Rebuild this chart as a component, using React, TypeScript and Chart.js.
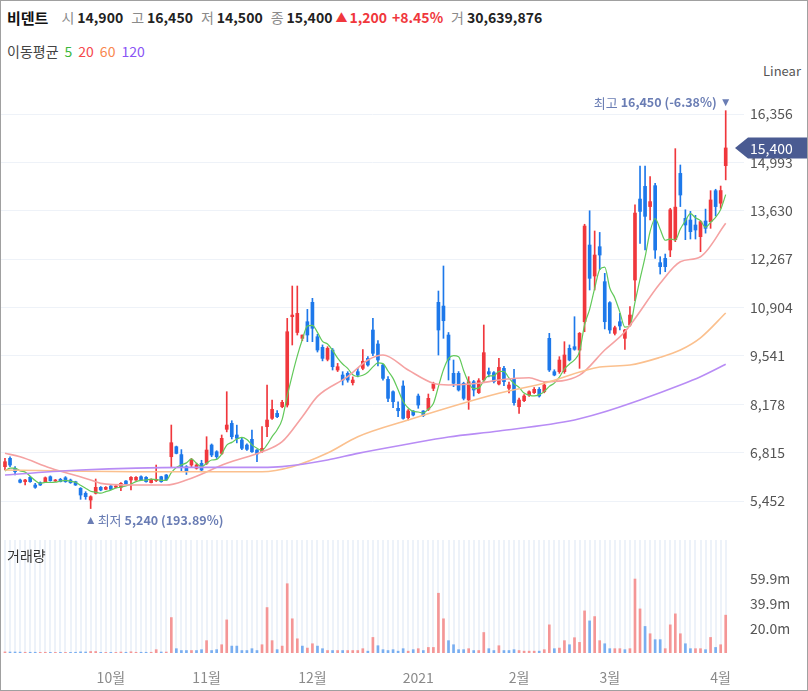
import React, { useEffect, useRef } from 'react';
import { Chart, registerables } from 'chart.js';

Chart.register(...registerables);

const FONT = '"Noto Sans CJK KR", "Noto Sans", sans-serif';

// ---- candle data (2020-09-01 .. 2021-04-02, trading days) ----
const openP = [
  6420, 6655, 6373, 6044, 5996, 6120, 5903, 5968, 5996, 6137,
  6016, 6063, 6108, 6044, 5996, 5810, 5668, 5480, 5668, 5838,
  5782, 5875, 5838, 5838, 6016, 6044, 6044, 6137, 6120, 5968,
  6024, 6137, 6185, 6700, 6982, 6760, 6420, 6466, 6373, 6513,
  6513, 7030, 6841, 6794, 7472, 7640, 7312, 7171, 7030, 7190,
  6889, 6841, 7546, 7781, 7922, 8109, 8157, 10645, 10200, 10036,
  10504, 11051, 10081, 9782, 9444, 9706, 9143, 9002, 9049, 8785,
  9096, 9190, 9472, 10270, 9876, 9284, 8880, 8532, 8064, 8693,
  7800, 7988, 8410, 7988, 8035, 8627, 11051, 10945, 10129, 9049,
  9049, 8768, 8298, 8814, 8504, 8861, 9096, 9068, 8749, 9190,
  8627, 8880, 8109, 8279, 8439, 8504, 8599, 8532, 10036, 9096,
  9096, 9096, 9754, 9800, 9706, 10504, 12665, 11791, 12618, 11632,
  11041, 10176, 10504, 10036, 10411, 11679, 13960, 14318, 13748, 14337,
  12168, 12289, 12524, 12815, 14684, 13416, 13370, 13229, 12900, 13342,
  13323, 14196, 13842, 14900,
];
const highP = [
  6655, 6700, 6420, 6070, 6060, 6150, 5950, 5990, 6130, 6160,
  6060, 6090, 6140, 6070, 6010, 5830, 5714, 5600, 6072, 5860,
  5860, 5890, 5890, 5970, 6030, 6140, 6140, 6160, 6140, 6080,
  6466, 6150, 6200, 7593, 7000, 6900, 6450, 6650, 6520, 6600,
  7264, 7060, 6870, 7312, 8532, 7715, 7590, 7230, 7060, 7452,
  6900, 7546, 8721, 8298, 8000, 8290, 10598, 11510, 11510, 10129,
  10852, 11163, 10150, 9850, 9800, 9750, 9330, 9096, 9096, 8950,
  9190, 9720, 9520, 10598, 9970, 9300, 8955, 8560, 8250, 8841,
  8030, 8000, 8467, 8000, 8467, 8800, 11369, 12074, 10200, 9425,
  9100, 8800, 8955, 8850, 8900, 10411, 9200, 9100, 9472, 9250,
  8800, 9162, 8350, 8450, 8560, 8650, 8650, 8800, 10176, 9150,
  9519, 9941, 9850, 10645, 10200, 13250, 13630, 13060, 13020, 11868,
  11069, 10380, 10739, 10290, 10927, 13800, 14891, 14891, 14590, 14400,
  12336, 12411, 13700, 15380, 14920, 13658, 13612, 13500, 13350, 13677,
  14196, 14236, 14327, 16450,
];
const lowP = [
  6330, 6420, 6185, 5960, 5903, 5980, 5810, 5890, 5980, 6010,
  6000, 5990, 5980, 5950, 5890, 5500, 5500, 5240, 5650, 5740,
  5770, 5770, 5820, 5742, 5920, 5762, 6030, 6030, 5980, 5960,
  6000, 5980, 6030, 6420, 6780, 6300, 6200, 6420, 6350, 6300,
  6480, 6700, 6650, 6760, 7400, 7200, 7090, 6900, 6880, 6820,
  6559, 6820, 7264, 7750, 7800, 8080, 8100, 9848, 10129, 9970,
  9941, 9941, 9650, 9400, 9400, 9143, 9100, 8721, 8800, 8720,
  8950, 9150, 9250, 9550, 9255, 8860, 8250, 8080, 7830, 7760,
  7734, 7850, 8064, 7830, 8000, 8560, 9566, 10036, 8861, 8673,
  8550, 8300, 8035, 8410, 8480, 8800, 8950, 8780, 8720, 8700,
  8500, 8150, 7922, 8250, 8400, 8480, 8380, 8500, 9100, 8980,
  9050, 9050, 9400, 9700, 9190, 10222, 11398, 11398, 11970, 10300,
  10176, 10130, 10270, 9726, 10380, 11100, 12712, 12524, 13370, 12289,
  11847, 11913, 12336, 12760, 13748, 12815, 12834, 12834, 12477, 13000,
  13135, 13483, 13700, 14500,
];
const closeP = [
  6560, 6466, 6278, 5979, 6044, 5996, 5838, 5903, 6108, 6024,
  6044, 5996, 5996, 5968, 5903, 5621, 5574, 5574, 5838, 5762,
  5838, 5782, 5875, 5950, 5931, 6120, 6120, 6044, 5996, 6063,
  6063, 5996, 6044, 7095, 6794, 6420, 6280, 6607, 6466, 6325,
  6889, 6748, 6700, 7218, 7593, 7264, 7218, 6937, 6909, 6841,
  6776, 6937, 7734, 8035, 7828, 8233, 10222, 10692, 10739, 10129,
  10129, 10318, 9706, 9472, 9754, 9236, 9236, 8861, 8861, 8861,
  9002, 9390, 9284, 9613, 9425, 8908, 8345, 8250, 7996, 7781,
  7990, 7875, 8157, 7856, 8345, 8749, 10270, 10532, 9425, 8768,
  8580, 8345, 8814, 8580, 8841, 9632, 9030, 8814, 9218, 8814,
  8721, 8222, 8298, 8410, 8532, 8599, 8410, 8721, 9143, 9002,
  9425, 9566, 9425, 9726, 10176, 13200, 11727, 12383, 12383, 10504,
  10270, 10335, 10383, 10270, 10692, 13565, 13612, 13473, 13888, 12524,
  12055, 12055, 13658, 13733, 14074, 13229, 13041, 13088, 13323, 13135,
  13935, 13748, 14200, 15400,
];
// volume, millions of shares
const volumeM = [
  0.9, 0.8, 0.8, 0.7, 0.6, 0.6, 0.6, 0.5, 0.6, 0.5,
  0.5, 0.5, 0.5, 0.5, 0.6, 0.9, 0.8, 1.2, 1.2, 0.5,
  0.5, 0.5, 0.5, 0.8, 0.6, 1.0, 0.6, 0.6, 0.6, 0.6,
  2.7, 0.8, 0.8, 28.7, 3.5, 2.0, 2.0, 2.0, 2.0, 2.7,
  10.0, 2.0, 2.7, 6.7, 26.8, 5.6, 5.6, 2.0, 2.0, 3.5,
  2.0, 6.7, 36.8, 10.0, 2.7, 5.6, 56.1, 27.7, 11.5, 5.6,
  4.0, 7.5, 5.6, 3.5, 2.0, 2.0, 2.0, 2.0, 2.0, 2.0,
  2.0, 3.5, 1.5, 12.6, 5.9, 2.7, 2.0, 2.7, 1.5, 3.5,
  1.5, 2.7, 3.5, 2.0, 4.5, 4.5, 48.4, 27.7, 10.0, 6.7,
  2.7, 2.7, 3.5, 2.0, 2.0, 16.6, 3.5, 2.0, 5.9, 2.0,
  2.0, 2.7, 2.0, 1.5, 1.5, 1.5, 1.5, 2.7, 22.8, 3.5,
  4.0, 10.0, 6.7, 12.4, 8.6, 34.1, 26.0, 29.5, 10.0, 7.5,
  3.5, 3.5, 3.5, 2.7, 3.5, 59.9, 35.7, 21.5, 15.6, 10.8,
  10.8, 3.5, 22.8, 31.7, 15.6, 7.5, 3.5, 3.5, 3.5, 2.7,
  12.6, 4.5, 6.7, 30.64,
];
const lastVolume = 30639876;

// moving averages (candle index -> value)
const ma5Head = [6300, 6380, 6380, 6300];
const ma20Idx = [0, 3, 9, 17, 19, 25, 32, 36, 44, 51, 55, 59, 62, 68, 72, 75, 80, 85, 88, 94, 98, 104, 107, 114, 119, 123, 130, 134, 138, 143];
const ma20Val = [6796, 6700, 6382, 6044, 5950, 5903, 5903, 6044, 6514, 6841, 7123, 7828, 8400, 8955, 9425, 9566, 9143, 8768, 8721, 8768, 8861, 8926, 8814, 9000, 9706, 10222, 11586, 12195, 12336, 13276];
const ma60Idx = [0, 29, 51, 57, 64, 70, 80, 98, 107, 118, 124, 130, 134, 138, 143];
const ma60Val = [6325, 6278, 6278, 6420, 6804, 7264, 7734, 8486, 8768, 9227, 9284, 9500, 9706, 10050, 10749];
const ma120Idx = [0, 15, 36, 51, 55, 64, 70, 80, 88, 98, 113, 118, 126, 134, 138, 143];
const ma120Val = [6185, 6325, 6400, 6400, 6420, 6607, 6794, 7058, 7255, 7424, 7734, 7922, 8298, 8720, 8954, 9304];

// axis ticks
const monthTickIdx = [21, 40, 61, 82, 102, 120, 142];
const monthTickLabels = ['10월', '11월', '12월', '2021', '2월', '3월', '4월'];
const priceTicks = [5452, 6815, 8178, 9541, 10904, 12267, 13630, 14993, 16356];
const volTicks = [19.97, 39.93, 59.9];

// axis ranges
const X_MIN = -0.79;
const X_MAX = 146.63;
const PRICE_MIN = 4410;
const PRICE_MAX = 17878;
const VOL_MAX = 91.5;

const UP = '#f0373c';
const DOWN = '#1d78ea';
const VUP = '#f49696';
const VDOWN = '#79aef0';
const ANNOT = '#6a7db4';

const fmt = (v: number) => Math.round(v).toLocaleString('en-US');

const annotPlugin = {
  id: 'annot',
  afterDatasetsDraw(chart: any) {
    const { ctx } = chart;
    const xs = chart.scales.x;
    const ys = chart.scales.y;
    const n = closeP.length;
    let hi = 0;
    let lo = 0;
    for (let i = 1; i < n; i++) {
      if (highP[i] > highP[hi]) hi = i;
      if (lowP[i] < lowP[lo]) lo = i;
    }
    const last = closeP[n - 1];
    ctx.save();
    ctx.fillStyle = ANNOT;
    ctx.textBaseline = 'middle';
    // high label
    const hx = xs.getPixelForValue(hi);
    const hy = ys.getPixelForValue(highP[hi]) - 8;
    ctx.beginPath();
    ctx.moveTo(hx - 3.5, hy - 3.5);
    ctx.lineTo(hx + 3.5, hy - 3.5);
    ctx.lineTo(hx, hy + 3.5);
    ctx.closePath();
    ctx.fill();
    const hiPct = (((last - highP[hi]) / highP[hi]) * 100).toFixed(2);
    const hiNum = `${fmt(highP[hi])} (${hiPct}%)`;
    ctx.textAlign = 'right';
    ctx.font = `bold 12.5px ${FONT}`;
    let rx = hx - 9;
    ctx.fillText(hiNum, rx, hy);
    rx -= ctx.measureText(hiNum).width + 3;
    ctx.font = `13px ${FONT}`;
    ctx.fillText('최고', rx, hy);
    // low label
    const lx = xs.getPixelForValue(lo);
    const ly = ys.getPixelForValue(lowP[lo]) + 12;
    ctx.beginPath();
    ctx.moveTo(lx - 3.5, ly + 3.5);
    ctx.lineTo(lx + 3.5, ly + 3.5);
    ctx.lineTo(lx, ly - 3.5);
    ctx.closePath();
    ctx.fill();
    const loPct = (((last - lowP[lo]) / lowP[lo]) * 100).toFixed(2);
    const loNum = `${fmt(lowP[lo])} (${loPct}%)`;
    ctx.textAlign = 'left';
    ctx.font = `13px ${FONT}`;
    let lx2 = lx + 7;
    ctx.fillText('최저', lx2, ly);
    lx2 += ctx.measureText('최저').width + 3;
    ctx.font = `bold 12.5px ${FONT}`;
    ctx.fillText(loNum, lx2, ly);
    ctx.restore();
  },
  afterDraw(chart: any) {
    const { ctx } = chart;
    const ys = chart.scales.y;
    const last = closeP[closeP.length - 1];
    const ty = ys.getPixelForValue(last);
    const tip = chart.chartArea.right - 9;
    const W = chart.width;
    ctx.save();
    ctx.fillStyle = '#4a5b92';
    ctx.beginPath();
    ctx.moveTo(tip, ty);
    ctx.lineTo(tip + 13, ty - 10.5);
    ctx.lineTo(W, ty - 10.5);
    ctx.lineTo(W, ty + 10.5);
    ctx.lineTo(tip + 13, ty + 10.5);
    ctx.closePath();
    ctx.fill();
    ctx.fillStyle = '#ffffff';
    ctx.font = `14px ${FONT}`;
    ctx.textAlign = 'left';
    ctx.textBaseline = 'middle';
    ctx.fillText(fmt(last), tip + 15, ty + 0.5);
    ctx.restore();
  },
};

function buildMa5() {
  const out: { x: number; y: number }[] = [];
  for (let i = 0; i < closeP.length; i++) {
    if (i < ma5Head.length) {
      out.push({ x: i, y: ma5Head[i] });
    } else {
      let s = 0;
      for (let k = i - 4; k <= i; k++) s += closeP[k];
      out.push({ x: i, y: s / 5 });
    }
  }
  return out;
}

const pts = (idx: number[], val: number[]) => idx.map((x, k) => ({ x, y: val[k] }));

export default function App() {
  const priceRef = useRef<HTMLCanvasElement | null>(null);
  const volRef = useRef<HTMLCanvasElement | null>(null);

  useEffect(() => {
    document.body.style.margin = '0';
    const idx = closeP.map((_, i) => i);
    const candleColor = idx.map((i) => (closeP[i] >= openP[i] ? UP : DOWN));
    const volColor = idx.map((i) => {
      const prev = i > 0 ? closeP[i - 1] : openP[i];
      return closeP[i] >= prev ? VUP : VDOWN;
    });

    const lineDs = (label: string, data: any[], color: string, width: number) => ({
      type: 'line' as const,
      label,
      data,
      borderColor: color,
      borderWidth: width,
      pointRadius: 0,
      cubicInterpolationMode: 'monotone' as const,
      fill: false,
      order: 0,
      xAxisID: 'x',
      yAxisID: 'y',
    });

    const priceChart = new Chart(priceRef.current as HTMLCanvasElement, {
      type: 'bar',
      data: {
        datasets: [
          lineDs('MA120', pts(ma120Idx, ma120Val), '#b88cf5', 1.6),
          lineDs('MA60', pts(ma60Idx, ma60Val), '#fbc08e', 1.6),
          lineDs('MA20', pts(ma20Idx, ma20Val), '#f5a2a2', 1.6),
          lineDs('MA5', buildMa5(), '#62c95a', 1.2),
          {
            type: 'bar',
            label: 'wick',
            data: idx.map((i) => ({ x: i, y: [lowP[i], highP[i]] })) as any,
            backgroundColor: candleColor,
            barThickness: 1,
            grouped: false,
            order: 2,
            xAxisID: 'x',
            yAxisID: 'y',
          } as any,
          {
            type: 'bar',
            label: 'body',
            data: idx.map((i) => ({ x: i, y: [openP[i], closeP[i]] })) as any,
            backgroundColor: candleColor,
            barThickness: 3,
            minBarLength: 1,
            grouped: false,
            order: 1,
            xAxisID: 'x',
            yAxisID: 'y',
          } as any,
        ],
      },
      options: {
        animation: false,
        responsive: false,
        maintainAspectRatio: false,
        layout: { padding: 0 },
        plugins: { legend: { display: false }, tooltip: { enabled: false } },
        scales: {
          x: {
            type: 'linear',
            min: X_MIN,
            max: X_MAX,
            offset: false,
            grid: { offset: false },
            display: false,
          },
          y: {
            type: 'linear',
            position: 'right',
            min: PRICE_MIN,
            max: PRICE_MAX,
            afterBuildTicks: (s: any) => {
              s.ticks = priceTicks.map((v) => ({ value: v }));
            },
            afterFit: (s: any) => {
              s.width = 63;
              s.paddingTop = 0;
              s.paddingBottom = 0;
            },
            ticks: {
              callback: (v: any) => fmt(Number(v)),
              color: '#555',
              font: { family: FONT, size: 14 },
              padding: 6,
            },
            grid: { color: '#eef2f8', drawTicks: false },
            border: { display: false },
          },
        },
      } as any,
      plugins: [annotPlugin],
    });

    const volChart = new Chart(volRef.current as HTMLCanvasElement, {
      type: 'bar',
      data: {
        datasets: [
          {
            label: 'volume',
            data: idx.map((i) => ({ x: i, y: volumeM[i] })) as any,
            backgroundColor: volColor,
            barThickness: 2,
            xAxisID: 'x',
            yAxisID: 'y',
          } as any,
        ],
      },
      options: {
        animation: false,
        responsive: false,
        maintainAspectRatio: false,
        layout: { padding: 0 },
        plugins: { legend: { display: false }, tooltip: { enabled: false } },
        scales: {
          x: {
            type: 'linear',
            position: 'bottom',
            min: X_MIN,
            max: X_MAX,
            offset: false,
            afterBuildTicks: (s: any) => {
              s.ticks = monthTickIdx.map((v) => ({ value: v }));
            },
            afterFit: (s: any) => {
              s.height = 37;
              s.paddingLeft = 0;
              s.paddingRight = 0;
            },
            ticks: {
              autoSkip: false,
              maxRotation: 0,
              callback: (_v: any, k: number) => monthTickLabels[k],
              color: '#8a8a8a',
              font: { family: FONT, size: 14 },
              padding: 8,
            },
            grid: { display: false, offset: false },
            border: { display: false },
          },
          xs: {
            type: 'linear',
            axis: 'x',
            position: 'top',
            min: X_MIN,
            max: X_MAX,
            offset: false,
            afterBuildTicks: (s: any) => {
              s.ticks = idx.map((v) => ({ value: v }));
            },
            afterFit: (s: any) => {
              s.height = 0;
              s.paddingLeft = 0;
              s.paddingRight = 0;
            },
            ticks: { display: false },
            grid: { color: '#edf2f9', lineWidth: 2, drawTicks: false, offset: false },
            border: { display: false },
          },
          y: {
            type: 'linear',
            position: 'right',
            min: 0,
            max: VOL_MAX,
            afterBuildTicks: (s: any) => {
              s.ticks = volTicks.map((v) => ({ value: v }));
            },
            afterFit: (s: any) => {
              s.width = 63;
              s.paddingTop = 0;
              s.paddingBottom = 0;
            },
            ticks: {
              callback: (v: any) => `${Number(v).toFixed(1)}m`,
              color: '#555',
              font: { family: FONT, size: 14 },
              padding: 6,
            },
            grid: { display: false, drawTicks: false },
            border: { display: false },
          },
        },
      } as any,
    });

    return () => {
      priceChart.destroy();
      volChart.destroy();
    };
  }, []);

  const n = closeP.length;
  const last = closeP[n - 1];
  const prev = closeP[n - 2];
  const chg = last - prev;
  const pct = ((chg / prev) * 100).toFixed(2);

  const lab: React.CSSProperties = { color: '#8a8a8a', marginRight: 3 };
  const num: React.CSSProperties = { fontWeight: 700, color: '#222', marginRight: 8 };

  return (
    <div
      style={{
        position: 'relative',
        width: 808,
        height: 691,
        boxSizing: 'border-box',
        border: '1px solid #a0a0a0',
        background: '#fff',
        fontFamily: FONT,
        overflow: 'hidden',
      }}
    >
      <div
        style={{
          position: 'absolute',
          left: 6,
          top: 5,
          height: 22,
          display: 'flex',
          alignItems: 'center',
          fontSize: 14,
          whiteSpace: 'nowrap',
        }}
      >
        <span style={{ fontWeight: 700, fontSize: 15, color: '#111', marginRight: 13 }}>비덴트</span>
        <span style={lab}>시</span>
        <span style={num}>{fmt(openP[n - 1])}</span>
        <span style={lab}>고</span>
        <span style={num}>{fmt(highP[n - 1])}</span>
        <span style={lab}>저</span>
        <span style={num}>{fmt(lowP[n - 1])}</span>
        <span style={lab}>종</span>
        <span style={{ ...num, marginRight: 3 }}>{fmt(last)}</span>
        <span style={{ color: '#f0373c', fontSize: 12, marginRight: 2 }}>▲</span>
        <span style={{ fontWeight: 700, color: '#f0373c', marginRight: 5 }}>{fmt(chg)}</span>
        <span style={{ fontWeight: 700, color: '#f0373c', marginRight: 8 }}>+{pct}%</span>
        <span style={lab}>거</span>
        <span style={num}>{fmt(lastVolume)}</span>
      </div>
      <div
        style={{
          position: 'absolute',
          left: 6,
          top: 39,
          height: 22,
          display: 'flex',
          alignItems: 'center',
          fontSize: 14,
          whiteSpace: 'nowrap',
          color: '#444',
        }}
      >
        <span style={{ marginRight: 6 }}>이동평균</span>
        <span style={{ color: '#3cb83c', marginRight: 6 }}>5</span>
        <span style={{ color: '#f5484d', marginRight: 6 }}>20</span>
        <span style={{ color: '#f9874e', marginRight: 6 }}>60</span>
        <span style={{ color: '#8a55f5' }}>120</span>
      </div>
      <div style={{ position: 'absolute', left: 762, top: 60, fontSize: 13, color: '#555' }}>Linear</div>
      <canvas
        ref={priceRef}
        width={806}
        height={478}
        style={{ position: 'absolute', left: 0, top: 59, width: 806, height: 478, display: 'block' }}
      />
      <canvas
        ref={volRef}
        width={806}
        height={150}
        style={{ position: 'absolute', left: 0, top: 539, width: 806, height: 150, display: 'block' }}
      />
      <div style={{ position: 'absolute', left: 6, top: 544, fontSize: 14, color: '#333' }}>거래량</div>
    </div>
  );
}
